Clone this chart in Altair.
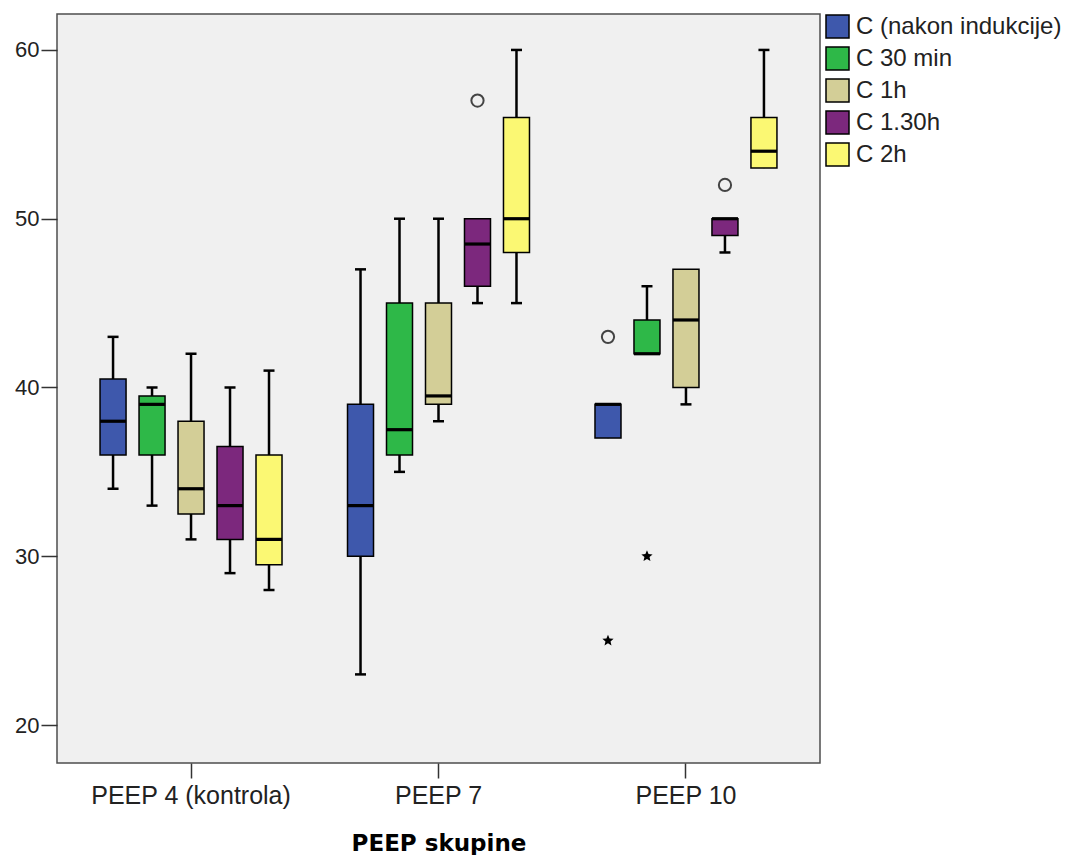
import math
import altair as alt
import pandas as pd

groups = ["PEEP 4 (kontrola)", "PEEP 7", "PEEP 10"]
series = ["C (nakon indukcije)", "C 30 min", "C 1h", "C 1.30h", "C 2h"]
colors = ["#3E58AC", "#2EB848", "#D3CE97", "#7C287D", "#FBF873"]

# rows: groups, columns: series
lower = [[34, 33, 31, 29, 28], [23, 35, 38, 45, 45], [37, 42, 39, 48, 53]]
q1 = [[36, 36, 32.5, 31, 29.5], [30, 36, 39, 46, 48], [37, 42, 40, 49, 53]]
median = [[38, 39, 34, 33, 31], [33, 37.5, 39.5, 48.5, 50], [39, 42, 44, 50, 54]]
q3 = [[40.5, 39.5, 38, 36.5, 36], [39, 45, 45, 50, 56], [39, 44, 47, 50, 56]]
upper = [[43, 40, 42, 40, 41], [47, 50, 50, 50, 60], [39, 46, 47, 50, 60]]

out_group = ["PEEP 7", "PEEP 10", "PEEP 10", "PEEP 10", "PEEP 10"]
out_series = ["C 1.30h", "C (nakon indukcije)", "C (nakon indukcije)", "C 30 min", "C 1.30h"]
out_value = [57, 43, 25, 30, 52]
out_kind = ["circle", "circle", "star", "star", "circle"]

rows = []
for gi, g in enumerate(groups):
    for si, s in enumerate(series):
        rows.append(dict(group=g, series=s, lower=lower[gi][si], q1=q1[gi][si],
                         median=median[gi][si], q3=q3[gi][si], upper=upper[gi][si],
                         kind="box", value=median[gi][si]))
for g, s, v, k in zip(out_group, out_series, out_value, out_kind):
    rows.append(dict(group=g, series=s, lower=None, q1=None, median=None, q3=None,
                     upper=None, kind=k, value=v))
df = pd.DataFrame(rows)

# five-pointed star symbol path (unit coordinates)
pts = []
for i in range(10):
    r = 1.0 if i % 2 == 0 else 0.45
    a = -math.pi / 2 + i * math.pi / 5
    pts.append(f"{r * math.cos(a):.3f},{r * math.sin(a):.3f}")
STAR = "M" + "L".join(pts) + "Z"

yscale = alt.Scale(domain=[17.75, 62.13], nice=False, zero=False)

base = alt.Chart(df).encode(
    x=alt.X("group:N",
            scale=alt.Scale(domain=groups, paddingInner=0, paddingOuter=0.0416),
            axis=alt.Axis(labelAngle=0, labelFontSize=25, labelLimit=400, tickSize=15,
                          labelPadding=5, titleFontSize=23, titleFont="DejaVu Sans",
                          titleFontWeight="bold", titleColor="black", titlePadding=24),
            title="PEEP skupine"),
    xOffset=alt.XOffset("series:N",
                        scale=alt.Scale(domain=series, paddingInner=0.333, paddingOuter=0.84)),
)

boxes = base.transform_filter("datum.kind == 'box'")

whisk = boxes.mark_rule(color="black", strokeWidth=2.5).encode(
    y=alt.Y("lower:Q", scale=yscale,
            axis=alt.Axis(values=[20, 30, 40, 50, 60], labelFontSize=22, tickSize=16,
                          labelPadding=2),
            title=None),
    y2="upper:Q")

box = boxes.mark_bar(stroke="black", strokeWidth=1.5).encode(
    y="q1:Q", y2="q3:Q",
    color=alt.Color("series:N", scale=alt.Scale(domain=series, range=colors), title=None))

med = boxes.mark_tick(color="black", thickness=3.2, size=26, opacity=1).encode(y="median:Q")

cap_up = boxes.transform_filter("datum.upper > datum.q3").mark_tick(
    color="black", thickness=2.5, size=11, opacity=1).encode(y="upper:Q")

cap_lo = boxes.transform_filter("datum.lower < datum.q1").mark_tick(
    color="black", thickness=2.5, size=11, opacity=1).encode(y="lower:Q")

circ = base.transform_filter("datum.kind == 'circle'").mark_point(
    shape="circle", filled=False, color="#444444", size=150, strokeWidth=2, opacity=1).encode(
    y="value:Q")
star = base.transform_filter("datum.kind == 'star'").mark_point(
    shape=STAR, filled=True, color="black", size=140, opacity=1).encode(y="value:Q")

chart = alt.layer(whisk, box, med, cap_up, cap_lo, circ, star).properties(
    width=763, height=749,
    padding={"left": 6, "top": 6, "right": 5, "bottom": 0},
).configure_view(
    fill="#F0F0F0", stroke="#4d4d4d", strokeWidth=1.5
).configure_axis(
    domain=False, grid=False, tickColor="#333333", tickWidth=1.5,
    labelColor="#222222", labelFont="Liberation Sans"
).configure_legend(
    orient="right", offset=5, symbolType="square", symbolSize=529,
    symbolStrokeColor="black", symbolStrokeWidth=1.5, symbolOpacity=1,
    labelFontSize=24, labelFont="Liberation Sans", labelColor="#222222",
    labelLimit=400, rowPadding=3, labelOffset=6, padding=0
)

chart.save("out.html", embed_options={"renderer": "svg", "actions": False})
